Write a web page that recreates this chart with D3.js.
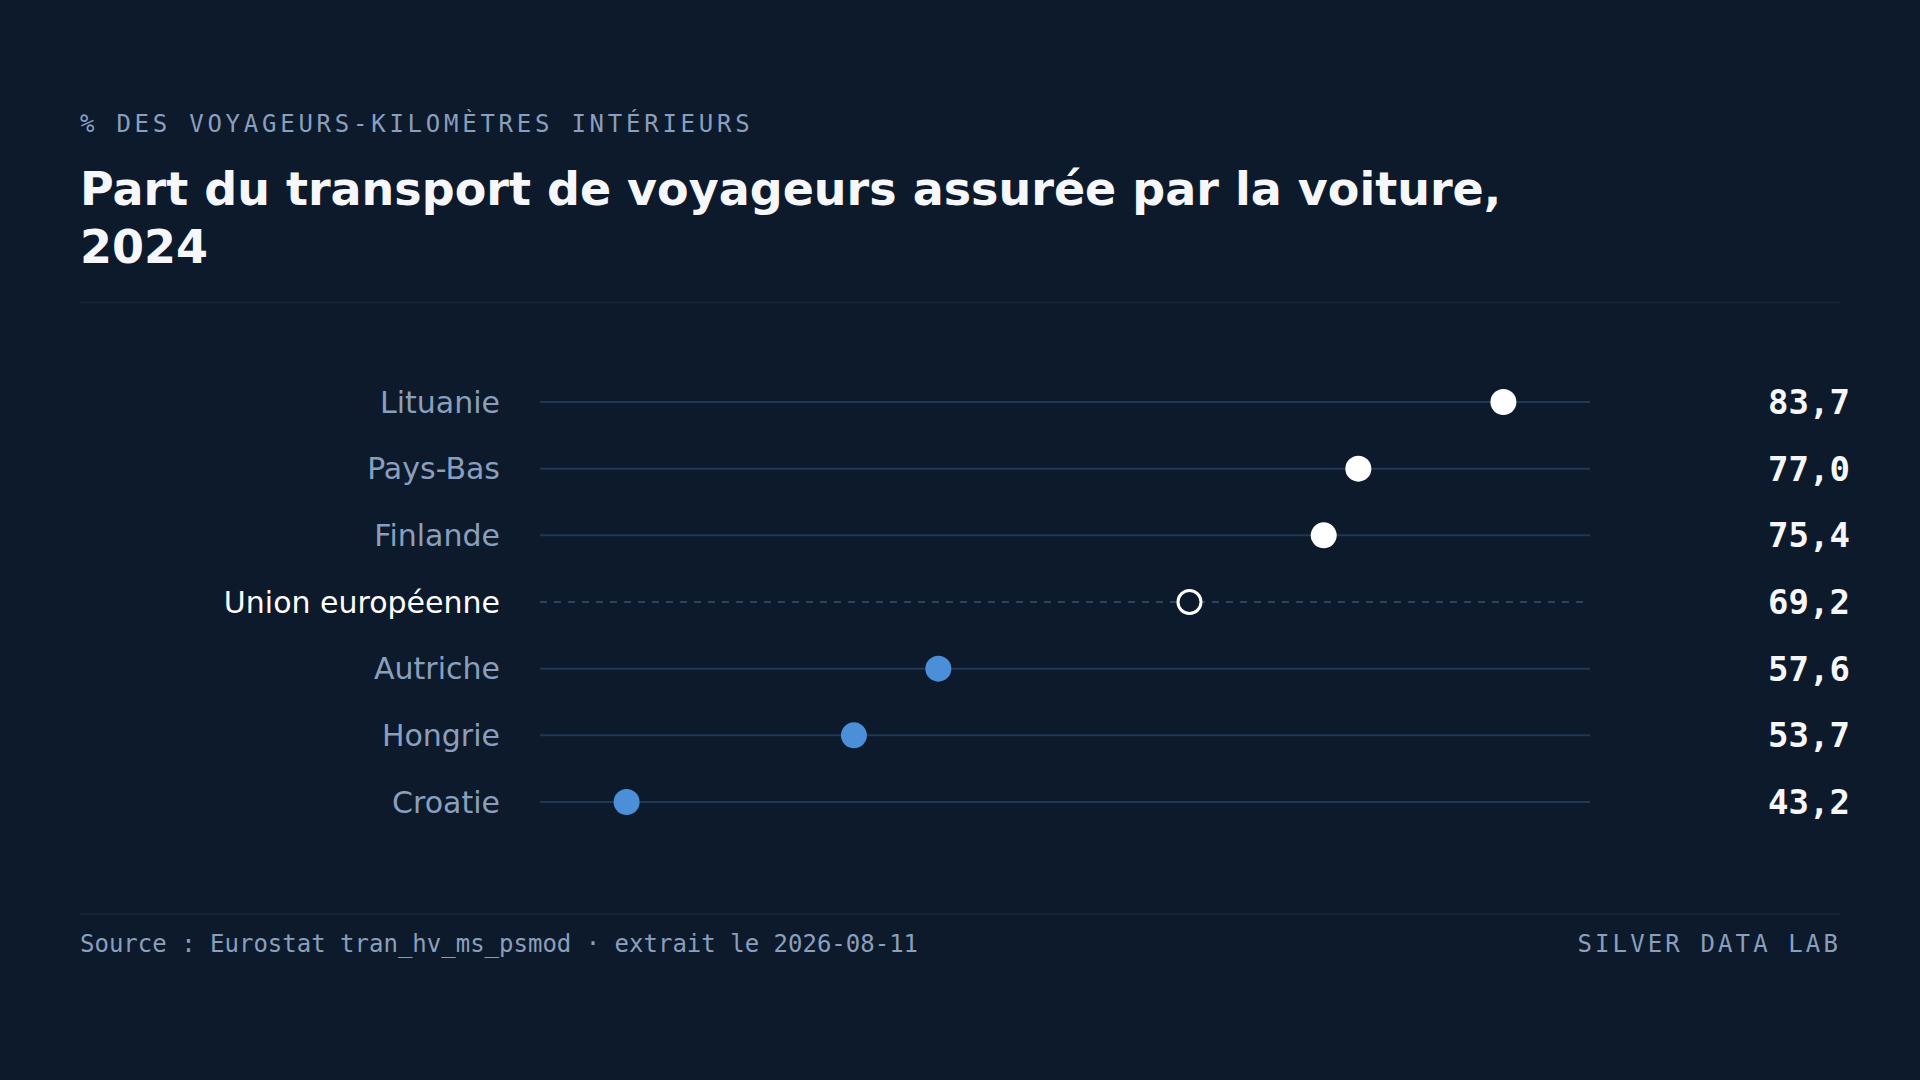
<!DOCTYPE html>
<html>
<head>
<meta charset="utf-8">
<script src="https://cdn.jsdelivr.net/npm/d3@7"></script>
<style>
  html, body { margin: 0; padding: 0; background: #0d1a2b; }
  svg { display: block; }
</style>
</head>
<body>
<svg id="chart" width="1920" height="1080"></svg>
<script>
// data
var countries = ["Lituanie", "Pays-Bas", "Finlande", "Union européenne", "Autriche", "Hongrie", "Croatie"]
var values = [83.7, 77.0, 75.4, 69.2, 57.6, 53.7, 43.2]
var reference = "Union européenne"
var kicker = "% DES VOYAGEURS-KILOMÈTRES INTÉRIEURS"
var titleLines = ["Part du transport de voyageurs assurée par la voiture,", "2024"]
var sourceText = "Source : Eurostat tran_hv_ms_psmod · extrait le 2026-08-11"
var brand = "SILVER DATA LAB"

var rows = countries.map(function(c, i){ return {name: c, value: values[i]} })
var refValue = values[countries.indexOf(reference)]

var sans = "'DejaVu Sans', Verdana, sans-serif"
var mono = "'DejaVu Sans Mono', monospace"

var fr = d3.formatLocale({decimal: ",", thousands: " ", grouping: [3], currency: ["", " €"]})
var fmt = fr.format(".1f")

var svg = d3.select("#chart")

// header
svg.append("text")
    .attr("x", 80)
    .attr("y", 132)
    .style("font-family", mono)
    .style("font-size", "24px")
    .style("letter-spacing", "3.75px")
    .style("fill", "#8a9fbd")
    .text(kicker)

svg.append("text")
    .attr("x", 80)
    .attr("y", 205)
    .style("font-family", sans)
    .style("font-weight", "bold")
    .style("font-size", "46px")
    .style("fill", "#f5f7fa")
  .selectAll("tspan")
  .data(titleLines)
  .enter()
  .append("tspan")
    .attr("x", 80)
    .attr("dy", function(d, i){ return i === 0 ? 0 : 58 })
    .text(function(d){ return d })

svg.append("line")
    .attr("x1", 80).attr("x2", 1840)
    .attr("y1", 302.5).attr("y2", 302.5)
    .style("stroke", "#172638")
    .style("stroke-width", 1.5)

// scales
var x = d3.scaleLinear()
  .domain([d3.min(values) - 4, d3.max(values) + 4])
  .range([540, 1590])

var y = d3.scalePoint()
  .domain(countries)
  .range([402, 802])

var row = svg.selectAll("g.row")
  .data(rows)
  .enter()
  .append("g")
    .attr("class", "row")
    .attr("transform", function(d){ return "translate(0," + y(d.name) + ")" })

// tracks
row.append("line")
    .attr("x1", x.range()[0])
    .attr("x2", x.range()[1])
    .style("stroke", function(d){ return d.name === reference ? "#2a4466" : "#213755" })
    .style("stroke-width", 2)
    .style("stroke-dasharray", function(d){ return d.name === reference ? "7 7" : null })

// country labels
row.append("text")
    .attr("x", 500)
    .attr("dy", "0.35em")
    .attr("text-anchor", "end")
    .style("font-family", sans)
    .style("font-size", "30px")
    .style("fill", function(d){ return d.name === reference ? "#ffffff" : "#8a9fbd" })
    .text(function(d){ return d.name })

// dots
row.append("circle")
    .attr("cx", function(d){ return x(d.value) })
    .attr("r", function(d){ return d.name === reference ? 11.5 : 13 })
    .style("fill", function(d){
      if (d.name === reference) return "#0d1a2b"
      return d.value > refValue ? "#ffffff" : "#4a8fd8"
    })
    .style("stroke", function(d){ return d.name === reference ? "#ffffff" : "none" })
    .style("stroke-width", 3)

// values
row.append("text")
    .attr("x", 1850)
    .attr("dy", "0.35em")
    .attr("text-anchor", "end")
    .style("font-family", mono)
    .style("font-weight", "bold")
    .style("font-size", "34px")
    .style("fill", "#f5f7fa")
    .text(function(d){ return fmt(d.value) })

// footer
svg.append("line")
    .attr("x1", 80).attr("x2", 1840)
    .attr("y1", 914).attr("y2", 914)
    .style("stroke", "#172638")
    .style("stroke-width", 1.5)

svg.append("text")
    .attr("x", 80)
    .attr("y", 952)
    .style("font-family", mono)
    .style("font-size", "24px")
    .style("fill", "#8a9fbd")
    .text(sourceText)

svg.append("text")
    .attr("x", 1841)
    .attr("y", 952)
    .attr("text-anchor", "end")
    .style("font-family", mono)
    .style("font-size", "24px")
    .style("letter-spacing", "0.13em")
    .style("fill", "#8a9fbd")
    .text(brand)
</script>
</body>
</html>
